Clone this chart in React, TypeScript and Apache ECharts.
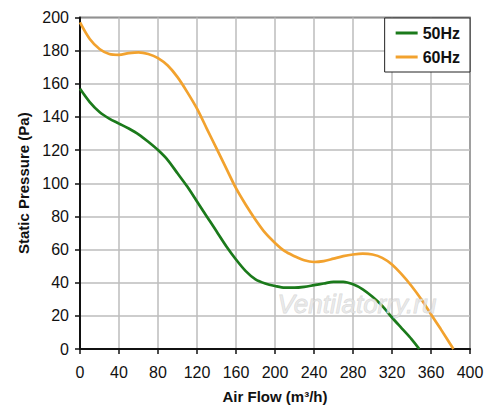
import React, { useEffect, useRef } from "react";
import * as echarts from "echarts";

const flow60 = [0, 10, 20, 30, 40, 50, 60, 70, 80, 90, 100, 110, 120, 130, 140, 150, 160, 170, 180, 190, 200, 210, 220, 230, 240, 250, 260, 270, 280, 290, 300, 310, 320, 330, 340, 350, 360, 370, 383];
const pressure60 = [197, 187, 181, 178, 177.5, 178.5, 179, 178, 175.5, 171, 164, 155, 145, 133, 121, 109, 97, 87, 78, 70, 64, 59, 56, 53.5, 52.5, 53, 54.5, 56, 57, 57.5, 57, 55, 51, 45, 38, 30, 21, 12, 0];
const flow50 = [0, 10, 20, 30, 40, 50, 60, 70, 80, 90, 100, 110, 120, 130, 140, 150, 160, 170, 180, 190, 200, 210, 220, 230, 240, 250, 260, 270, 280, 290, 300, 310, 320, 330, 340, 348];
const pressure50 = [157, 149, 143, 139, 136, 133, 129.5, 125, 120, 114, 106, 98, 89, 80, 71, 62, 54, 47, 42, 39.5, 38, 37, 37, 37.5, 38.5, 39.5, 40.5, 40.5, 39, 36, 31.5, 26, 19, 12.5, 6, 0];
const seriesNames = ["50Hz", "60Hz"];
const xTitle = "Air Flow (m³/h)";
const yTitle = "Static Pressure (Pa)";
const watermark = "Ventilatorry.ru";

export default function App() {
  const ref = useRef<HTMLDivElement>(null);
  useEffect(() => {
    if (!ref.current) return;
    const chart = echarts.init(ref.current, null, { renderer: "svg" });
    const font = "Arial, 'Liberation Sans', sans-serif";
    chart.setOption({
      animation: false,
      backgroundColor: "#ffffff",
      grid: { left: 80, right: 30, top: 17.5, bottom: 61, show: true, borderColor: "#111", borderWidth: 1.5, backgroundColor: "transparent" },
      legend: {
        data: seriesNames,
        orient: "vertical",
        right: 30,
        top: 18,
        backgroundColor: "#fff",
        borderColor: "#222",
        borderWidth: 1,
        borderRadius: 0,
        padding: [7, 10, 7, 11],
        itemGap: 8,
        itemWidth: 22,
        itemHeight: 3,
        icon: "rect",
        textStyle: { fontFamily: font, fontWeight: "bold", fontSize: 16, color: "#111" },
      },
      xAxis: {
        type: "value",
        min: 0,
        max: 400,
        interval: 40,
        name: xTitle,
        nameLocation: "middle",
        nameGap: 40,
        nameTextStyle: { fontFamily: font, fontWeight: "bold", fontSize: 15, color: "#111" },
        axisLine: { show: true, onZero: false, lineStyle: { color: "#111", width: 2 } },
        axisTick: { show: true, length: 5, lineStyle: { color: "#111", width: 1.5 } },
        axisLabel: { fontFamily: font, fontSize: 16, color: "#111", margin: 15 },
        splitLine: { show: true, lineStyle: { color: "#bcbcbc", width: 1.5 } },
      },
      yAxis: {
        type: "value",
        min: 0,
        max: 200,
        interval: 20,
        name: yTitle,
        nameLocation: "middle",
        nameGap: 48,
        nameTextStyle: { fontFamily: font, fontWeight: "bold", fontSize: 15, color: "#111" },
        axisLine: { show: true, lineStyle: { color: "#111", width: 2 } },
        axisTick: { show: true, length: 5, lineStyle: { color: "#111", width: 1.5 } },
        axisLabel: { fontFamily: font, fontSize: 16, color: "#111", margin: 11 },
        splitLine: { show: true, lineStyle: { color: "#bcbcbc", width: 1.5 } },
      },
      graphic: [
        {
          type: "text",
          left: 277,
          top: 291,
          z: 100,
          style: {
            text: watermark,
            fontFamily: font,
            fontStyle: "italic",
            fontSize: 26,
            fill: "rgba(228,228,228,0.75)",
            stroke: "rgba(190,190,190,0.6)",
            lineWidth: 0.8,
          },
        },
      ],
      series: [
        {
          name: seriesNames[0],
          type: "line",
          data: flow50.map((x, i) => [x, pressure50[i]]),
          smooth: 0.3,
          showSymbol: false,
          symbol: "none",
          lineStyle: { color: "#1b7a1b", width: 2.7 },
          itemStyle: { color: "#1b7a1b" },
          z: 3,
        },
        {
          name: seriesNames[1],
          type: "line",
          data: flow60.map((x, i) => [x, pressure60[i]]),
          smooth: 0.3,
          showSymbol: false,
          symbol: "none",
          lineStyle: { color: "#f2a22e", width: 2.7 },
          itemStyle: { color: "#f2a22e" },
          z: 3,
        },
      ],
    });
    return () => chart.dispose();
  }, []);
  return <div ref={ref} style={{ position: "fixed", left: 0, top: 0, width: 500, height: 410 }} />;
}
